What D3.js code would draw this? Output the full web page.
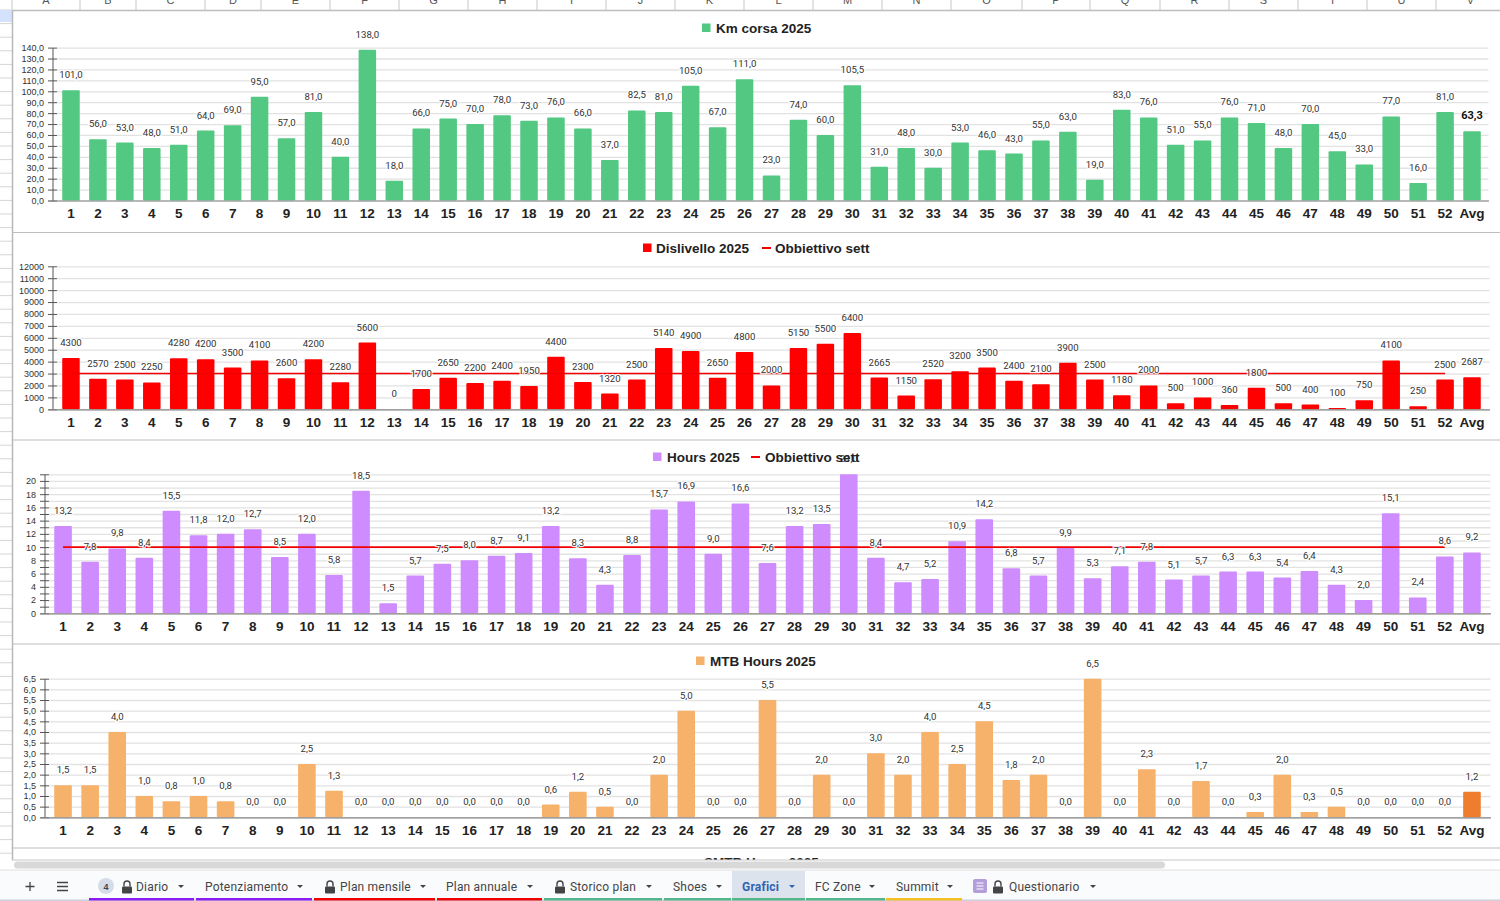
<!DOCTYPE html>
<html><head><meta charset="utf-8">
<script src="https://cdn.jsdelivr.net/npm/d3@7"></script>
<style>
html,body{margin:0;padding:0;background:#fff;overflow:hidden}
svg{display:block}
text{font-family:"Liberation Sans",Arial,sans-serif}
.val{font-family:Roboto,sans-serif;font-size:9.6px;fill:#333;text-anchor:middle;stroke:#fff;stroke-width:2.5px;paint-order:stroke;stroke-opacity:.85}
.cat text{font-size:13.5px;font-weight:700;fill:#222}
.yax text{font-size:9px;fill:#333}
.title{font-size:13.5px;font-weight:700;fill:#222}
.tab{font-family:Roboto,sans-serif;font-size:12px;fill:#444;letter-spacing:.2px}
</style></head><body><svg id="c" width="1500" height="901"></svg>
<script>
const weeks = d3.range(1,53).map(String).concat(["Avg"]);
const kmCorsa = [101,56,53,48,51,64,69,95,57,81,40,138,18,66,75,70,78,73,76,66,37,82.5,81,105,67,111,23,74,60,105.5,31,48,30,53,46,43,55,63,19,83,76,51,55,76,71,48,70,45,33,77,16,81,63.3];
const dislivello = [4300,2570,2500,2250,4280,4200,3500,4100,2600,4200,2280,5600,0,1700,2650,2200,2400,1950,4400,2300,1320,2500,5140,4900,2650,4800,2000,5150,5500,6400,2665,1150,2520,3200,3500,2400,2100,3900,2500,1180,2000,500,1000,360,1800,500,400,100,750,4100,250,2500,2687];
const hours = [13.2,7.8,9.8,8.4,15.5,11.8,12,12.7,8.5,12,5.8,18.5,1.5,5.7,7.5,8,8.7,9.1,13.2,8.3,4.3,8.8,15.7,16.9,9,16.6,7.6,13.2,13.5,21,8.4,4.7,5.2,10.9,14.2,6.8,5.7,9.9,5.3,7.1,7.8,5.1,5.7,6.3,6.3,5.4,6.4,4.3,2,15.1,2.4,8.6,9.2];
const mtbHours = [1.5,1.5,4,1,0.75,1,0.75,0,0,2.5,1.25,0,0,0,0,0,0,0,0.6,1.2,0.5,0,2,5,0,0,5.5,0,2,0,3,2,4,2.5,4.5,1.75,2,0,6.5,0,2.25,0,1.7,0,0.25,2,0.25,0.5,0,0,0,0,1.2];
const objDislivello = 3000, objHours = 10;
const columnLetters = "ABCDEFGHIJKLMNOPQRSTUV".split("");
const columnEdges = [12,80,136,205,261,330,399,468,537,606,675,744,813,882,951,1022,1090,1160,1229,1298,1367,1436,1505];
const tabs = [
 {name:"Diario",x:136,arrow:181,u:[89,194],c:"#8a1cf0",lock:127},
 {name:"Potenziamento",x:205,arrow:300,u:[196,312],c:"#8a1cf0"},
 {name:"Plan mensile",x:340,arrow:423,u:[314,435],c:"#f00000",lock:330},
 {name:"Plan annuale",x:446,arrow:530,u:[437,542],c:"#f00000"},
 {name:"Storico plan",x:570,arrow:649,u:[544,662],c:"#55b58a",lock:560},
 {name:"Shoes",x:673,arrow:719,u:[664,731],c:"#55b58a"},
 {name:"Grafici",x:742,arrow:792,u:[732,805],c:"#55b58a",active:true},
 {name:"FC Zone",x:815,arrow:872,u:[806,885],c:"#55b58a"},
 {name:"Summit",x:896,arrow:950,u:[886,962],c:"#f6bf26"},
 {name:"Questionario",x:1009,arrow:1093,lock:998}
];

const svg = d3.select("#c");
const comma = n => d => d3.format("."+n+"f")(d).replace(".",",");

function lockIcon(g,x,y,c){
  g.append("rect").attr("x",x-5).attr("y",y-1).attr("width",10).attr("height",7).attr("rx",1).attr("fill",c||"#444");
  g.append("path").attr("d",`M${x-3},${y-1}v-2.5a3,3 0 0 1 6,0v2.5`).attr("fill","none").attr("stroke",c||"#444").attr("stroke-width",1.4);
}

function chart(o){
  const g = svg.append("g");
  const x = d3.scaleBand().domain(weeks).range(o.xr).paddingInner(.35).paddingOuter(.175);
  const y = d3.scaleLinear().domain([0,o.max]).range(o.yr);
  const bw = x.bandwidth();
  const grid = g.append("g").attr("transform",`translate(${o.xr[0]-.5},0)`)
    .call(d3.axisLeft(y).tickValues(o.gridVals).tickSize(-(o.gridEnd-o.xr[0])).tickFormat(""));
  grid.select(".domain").remove();
  grid.selectAll("line").attr("stroke","#e2e2e2").attr("stroke-width",1.3);
  const ax = g.append("g").attr("class","yax").attr("transform",`translate(${o.xr[0]-.5},0)`)
    .call(d3.axisLeft(y).tickValues(o.gridVals).tickSize(9).tickSizeOuter(0).tickPadding(4)
      .tickFormat(o.yfmt));
  ax.select(".domain").attr("transform","translate(-4.5,0)").attr("stroke","#555");
  ax.selectAll("line").attr("stroke","#555");
  ax.selectAll("text").attr("x",-13);
  g.append("g").selectAll("rect").data(o.vals).join("rect")
    .attr("x",(d,i)=>x(weeks[i])).attr("width",bw)
    .attr("y",d=>y(d)).attr("height",d=>y(0)-y(d)).attr("rx",1)
    .attr("fill",(d,i)=>o.avgColor&&i===52?o.avgColor:o.color);
  const bx = g.append("g").attr("class","cat").attr("transform",`translate(0,${o.yr[0]})`)
    .call(d3.axisBottom(x).tickSize(0).tickPadding(8));
  bx.select(".domain").attr("stroke","#888").attr("stroke-width",1.2).attr("d",`M${o.xr[0]-9},0.5H${o.gridEnd}`);
  if(o.obj!==undefined){
    g.append("path").datum(weeks.slice(0,52))
      .attr("fill","none").attr("stroke","#f00000").attr("stroke-width",1.6)
      .attr("d",d3.line().x(d=>x(d)+bw/2).y(()=>y(o.obj)));
  }
  g.append("g").selectAll("text").data(o.vals).join("text").attr("class","val")
    .attr("x",(d,i)=>x(weeks[i])+bw/2).attr("y",d=>y(d)-12)
    .style("font-weight",(d,i)=>o.avgBold&&i===52?"700":null)
    .style("font-size",(d,i)=>o.avgBold&&i===52?"11px":null)
    .style("fill",(d,i)=>o.avgBold&&i===52?"#111":null)
    .text(o.fmt);
  const cy=o.titleY;
  g.append("rect").attr("x",o.leg[0]).attr("y",cy-4.5).attr("width",8.5).attr("height",8.5).attr("fill",o.color);
  g.append("text").attr("class","title").attr("x",o.leg[1]).attr("y",cy+4.5).text(o.title);
  if(o.obj!==undefined){
    g.append("line").attr("x1",o.leg[2]).attr("x2",o.leg[2]+9).attr("y1",cy).attr("y2",cy).attr("stroke","#f00000").attr("stroke-width",2);
    g.append("text").attr("class","title").attr("x",o.leg[3]).attr("y",cy+4.5).text("Obbiettivo sett");
  }
}

function chrome(){
  const h = svg.append("g");
  h.append("rect").attr("width",1500).attr("height",10).attr("fill","#fff");
  h.selectAll("line.c").data(columnEdges).join("line").attr("x1",d=>d).attr("x2",d=>d).attr("y1",0).attr("y2",10).attr("stroke","#c7c7c7");
  h.selectAll("text").data(columnLetters).join("text")
    .attr("x",(d,i)=>(columnEdges[i]+columnEdges[i+1])/2).attr("y",4).attr("text-anchor","middle")
    .attr("font-size",11).attr("fill","#555").text(d=>d);
  const rows = d3.range(10,860,13.6);
  h.selectAll("line.r").data(rows).join("line").attr("x1",0).attr("x2",12).attr("y1",d=>d).attr("y2",d=>d).attr("stroke","#d5d5d5");
  h.append("rect").attr("x",0).attr("y",10).attr("width",12).attr("height",12).attr("fill","#d3e3fd");
  h.append("line").attr("x1",12.5).attr("x2",12.5).attr("y1",10).attr("y2",862).attr("stroke","#b8b8b8").attr("stroke-width",1.5);
  [10.5,232.5,440,644,848].forEach(y=>h.append("line").attr("x1",12).attr("x2",1500).attr("y1",y).attr("y2",y).attr("stroke","#bdbdbd").attr("stroke-width",y===10.5?1.5:1.2));
  svg.append("clipPath").attr("id","nx").append("rect").attr("x",0).attr("y",848).attr("width",1500).attr("height",12);
  svg.append("text").attr("clip-path","url(#nx)").attr("class","title").attr("x",704).attr("y",867).text("SMTB Hours 2025");
  svg.append("rect").attr("x",0).attr("y",860).attr("width",1500).attr("height",10).attr("fill","#fff");
  svg.append("line").attr("x1",12).attr("x2",1500).attr("y1",860).attr("y2",860).attr("stroke","#c8c8c8");
  svg.append("rect").attr("x",14).attr("y",861.5).attr("width",1151).attr("height",7).attr("rx",3.5).attr("fill","#d9d9d9");
  const t = svg.append("g");
  t.append("rect").attr("y",870).attr("width",1500).attr("height",31).attr("fill","#f9fbfd");
  t.append("line").attr("x1",0).attr("x2",1500).attr("y1",870).attr("y2",870).attr("stroke","#e0e0e0");
  t.append("rect").attr("y",899.5).attr("width",1500).attr("height",1.5).attr("fill","#cdd0da");
  t.append("path").attr("d","M25.5,886.5h9M30,882v9").attr("stroke","#444").attr("stroke-width",1.3);
  t.append("path").attr("d","M57,882.5h11M57,886.5h11M57,890.5h11").attr("stroke","#444").attr("stroke-width",1.3);
  t.append("circle").attr("cx",106).attr("cy",886).attr("r",8).attr("fill","#d3dce8");
  t.append("text").attr("x",106).attr("y",889.5).attr("text-anchor","middle").attr("font-size",9).attr("font-weight",700).attr("fill","#444").text("4");
  const a = tabs.find(d=>d.active);
  t.append("rect").attr("x",a.u[0]).attr("y",871).attr("width",a.u[1]-a.u[0]).attr("height",27).attr("fill","#dde3ec");
  tabs.forEach(d=>{
    if(d.u) t.append("rect").attr("x",d.u[0]).attr("y",898).attr("width",d.u[1]-d.u[0]).attr("height",2.5).attr("fill",d.c);
    t.append("text").attr("class","tab").attr("x",d.x).attr("y",890.5)
      .style("fill",d.active?"#2f62b5":null).style("font-weight",d.active?700:null).text(d.name);
    t.append("path").attr("d",`M${d.arrow-3},885h6l-3,3z`).attr("fill",d.active?"#2f62b5":"#444");
    if(d.lock) lockIcon(t,d.lock,887.5);
  });
  t.append("rect").attr("x",973).attr("y",879).attr("width",14).attr("height",14).attr("rx",2).attr("fill","#b39ddb");
  t.append("path").attr("d","M976.5,883h7M976.5,886h7M976.5,889h7").attr("stroke","#fff").attr("stroke-width",1);
}

chrome();
chart({vals:kmCorsa,color:"#52c882",max:140,xr:[57.5,1485.5],yr:[200.5,47.6],gridEnd:1489,
  gridVals:d3.range(0,141,10),yfmt:comma(1),fmt:comma(1),avgBold:true,
  title:"Km corsa 2025",titleY:28,leg:[702,716]});
chart({vals:dislivello,color:"#ff0000",max:12000,xr:[57.5,1485.5],yr:[409.3,266.3],gridEnd:1490,
  gridVals:d3.range(0,12001,1000),yfmt:d=>d,fmt:d=>d,obj:objDislivello,
  title:"Dislivello 2025",titleY:248,leg:[643,656,762,775]});
chart({vals:hours,color:"#cf8cff",max:21,xr:[49.5,1485.5],yr:[613.3,474.3],gridEnd:1491,
  gridVals:d3.range(0,22,1),yfmt:d=>d%2===0?d:"",fmt:comma(1),obj:objHours,
  title:"Hours 2025",titleY:457,leg:[653,667,751,765]});
chart({vals:mtbHours,color:"#f6b26b",avgColor:"#ef7d2e",max:6.5,xr:[49.5,1485.5],yr:[817.3,678.7],gridEnd:1491,
  gridVals:d3.range(0,6.6,.5),yfmt:comma(1),fmt:comma(1),
  title:"MTB Hours 2025",titleY:661,leg:[696,710]});
</script></body></html>
